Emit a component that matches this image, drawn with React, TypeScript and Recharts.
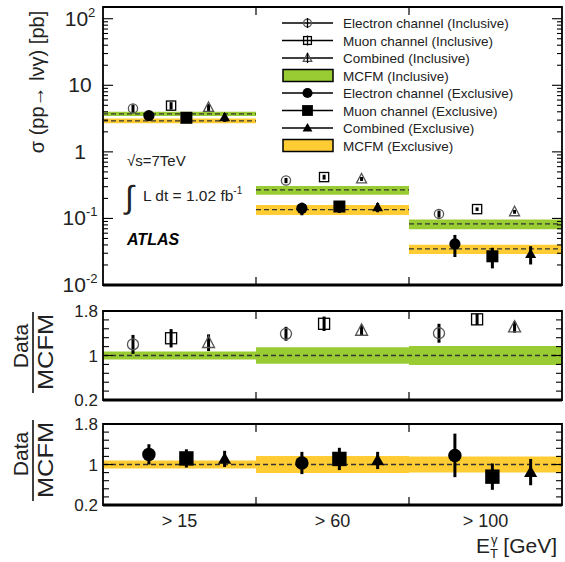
import React from 'react';
import { ComposedChart, Scatter, ErrorBar, XAxis, YAxis, ReferenceArea, ReferenceLine } from 'recharts';

const FONT = '"Liberation Sans", Arial, Helvetica, sans-serif';

// E_T^gamma bins
const binLabels = ['> 15', '> 60', '> 100'];
const binEdges = [1, 2];
const binCenters = [0.5, 1.5, 2.5];

// MCFM predictions [pb] and relative uncertainty
const mcfmIncl = [3.73, 0.268, 0.0826];
const mcfmExcl = [2.93, 0.1355, 0.0348];
const mcfmInclUnc = [0.07, 0.15, 0.17];
const mcfmExclUnc = [0.08, 0.17, 0.16];

// measured cross sections [pb]
const elIncl = [4.5, 0.372, 0.117];
const muIncl = [4.95, 0.418, 0.138];
const combIncl = [4.65, 0.392, 0.126];
const elExcl = [3.5, 0.142, 0.0414];
const muExcl = [3.25, 0.151, 0.027];
const combExcl = [3.3, 0.147, 0.0293];

// Data / MCFM
const elInclRatio = [1.2, 1.39, 1.4];
const muInclRatio = [1.31, 1.57, 1.65];
const combInclRatio = [1.23, 1.45, 1.51];
const elExclRatio = [1.2, 1.03, 1.18];
const muExclRatio = [1.12, 1.11, 0.76];
const combExclRatio = [1.11, 1.08, 0.85];

// Data / MCFM total errors
const elInclErr = [0.17, 0.125, 0.17];
const muInclErr = [0.165, 0.13, 0.1];
const combInclErr = [0.15, 0.1, 0.1];
const elExclErr = [0.2, 0.22, 0.43];
const muExclErr = [0.18, 0.22, 0.26];
const combExclErr = [0.16, 0.17, 0.26];

// axis ticks
const logMajor = [0.01, 0.1, 1, 10, 100];
const logLabels = [['10', '-2'], ['10', '-1'], ['1', ''], ['10', ''], ['10', '2']];
const ratioTicks = [0.2, 0.36, 0.52, 0.68, 0.84, 1, 1.16, 1.32, 1.48, 1.64, 1.8];
const ratioMajor = [0.2, 1, 1.8];
const ratioLabels = ['0.2', '1', '1.8'];

const LOG_MAX = 150;
const logTicks = logMajor
  .flatMap((d) => [1, 2, 3, 4, 5, 6, 7, 8, 9].map((k) => d * k))
  .filter((v) => v <= LOG_MAX);

const PL = 103;
const PR = 562;
const GREEN = '#99cc33';
const YELLOW = '#ffcc33';

type Kind = 'oc' | 'os' | 'ot' | 'fc' | 'fs' | 'ft';

interface Series {
  name: string;
  kind: Kind;
  off: number;
  xs: number[];
  ratio: number[];
  err: number[];
}

const inclSeries: Series[] = [
  { name: 'Electron channel (Inclusive)', kind: 'oc', off: 0.196, xs: elIncl, ratio: elInclRatio, err: elInclErr },
  { name: 'Muon channel (Inclusive)', kind: 'os', off: 0.445, xs: muIncl, ratio: muInclRatio, err: muInclErr },
  { name: 'Combined (Inclusive)', kind: 'ot', off: 0.69, xs: combIncl, ratio: combInclRatio, err: combInclErr },
];
const exclSeries: Series[] = [
  { name: 'Electron channel (Exclusive)', kind: 'fc', off: 0.3, xs: elExcl, ratio: elExclRatio, err: elExclErr },
  { name: 'Muon channel (Exclusive)', kind: 'fs', off: 0.545, xs: muExcl, ratio: muExclRatio, err: muExclErr },
  { name: 'Combined (Exclusive)', kind: 'ft', off: 0.795, xs: combExcl, ratio: combExclRatio, err: combExclErr },
];

const drawMarker = (kind: Kind, cx: number, cy: number, s: number) => {
  switch (kind) {
    case 'oc':
      return <circle cx={cx} cy={cy} r={4.6 * s} fill="none" stroke="#555" strokeWidth={1.3} />;
    case 'os':
      return <rect x={cx - 4.6 * s} y={cy - 4.6 * s} width={9.2 * s} height={9.2 * s} fill="none" stroke="#000" strokeWidth={1.3} />;
    case 'ot':
      return <path d={`M${cx},${cy - 5.5 * s}L${cx + 5 * s},${cy + 4 * s}L${cx - 5 * s},${cy + 4 * s}Z`} fill="none" stroke="#555" strokeWidth={1.3} />;
    case 'fc':
      return <circle cx={cx} cy={cy} r={5.6 * s} fill="#000" />;
    case 'fs':
      return <rect x={cx - 6 * s} y={cy - 6 * s} width={12 * s} height={12 * s} fill="#000" />;
    default:
      return <path d={`M${cx},${cy - 5.5 * s}L${cx + 5.5 * s},${cy + 4 * s}L${cx - 5.5 * s},${cy + 4 * s}Z`} fill="#000" />;
  }
};

const binTick = (top: number, bottom: number, labels: boolean) => (props: any) => {
  const { x, payload } = props;
  const v = payload.value;
  if (labels && binCenters.includes(v)) {
    return (
      <text x={x} y={bottom + 22} textAnchor="middle" fontSize={18} fontFamily={FONT} fill="#222">
        {binLabels[binCenters.indexOf(v)]}
      </text>
    );
  }
  return (
    <g>
      <line x1={x} x2={x} y1={bottom} y2={bottom - 8} stroke="#000" strokeWidth={1.2} />
      <line x1={x} x2={x} y1={top} y2={top + 8} stroke="#000" strokeWidth={1.2} />
    </g>
  );
};

const logTick = (props: any) => {
  const { y, payload } = props;
  const v = payload.value;
  const idx = logMajor.findIndex((m) => Math.abs(m - v) < m * 1e-6);
  const len = idx >= 0 ? 10 : 5;
  return (
    <g>
      <line x1={PL} x2={PL + len} y1={y} y2={y} stroke="#000" strokeWidth={1.1} />
      <line x1={PR - len} x2={PR} y1={y} y2={y} stroke="#000" strokeWidth={1.1} />
      {idx >= 0 && (
        <text x={80} y={y + 7} textAnchor="middle" fontSize={21} fontFamily={FONT} fill="#222">
          {logLabels[idx][0]}
          {logLabels[idx][1] && (
            <tspan dy={-9} fontSize={13}>
              {logLabels[idx][1]}
            </tspan>
          )}
        </text>
      )}
    </g>
  );
};

const ratioTick = (props: any) => {
  const { y, payload } = props;
  const v = payload.value;
  const idx = ratioMajor.findIndex((m) => Math.abs(m - v) < 1e-6);
  const len = idx >= 0 ? 10 : 6;
  return (
    <g>
      <line x1={PL} x2={PL + len} y1={y} y2={y} stroke="#000" strokeWidth={1.1} />
      <line x1={PR - len} x2={PR} y1={y} y2={y} stroke="#000" strokeWidth={1.1} />
      {idx >= 0 && (
        <text x={98} y={y + 6} textAnchor="end" fontSize={17} fontFamily={FONT} fill="#222">
          {ratioLabels[idx]}
        </text>
      )}
    </g>
  );
};

const scatterFor = (s: Series, vals: number[], errs: number[], scale: number) => (
  <Scatter
    key={s.name}
    name={s.name}
    data={vals.map((v, i) => ({ x: i + s.off, y: v, err: errs[i] }))}
    shape={(p: any) => drawMarker(s.kind, p.cx, p.cy, scale)}
    isAnimationActive={false}
  >
    <ErrorBar dataKey="err" direction="y" width={0} stroke="#000" strokeWidth={3} />
  </Scatter>
);

const dash = '5 3';

const RatioPanel = ({ series, unc, color, top, plotBottom, height, labels }: any) => {
  return (
    <ComposedChart width={565} height={height} margin={{ top, right: 3, bottom: 0, left: 0 }}>
      <XAxis type="number" dataKey="x" domain={[0, 3]} ticks={labels ? [...binCenters, ...binEdges] : binEdges} interval={0} height={height - plotBottom} axisLine={false} tickLine={false} tick={binTick(top, plotBottom, labels)} allowDataOverflow />
      <YAxis type="number" dataKey="y" domain={[0.2, 1.8]} ticks={ratioTicks} interval={0} width={103} axisLine={false} tickLine={false} tick={ratioTick} allowDataOverflow />
      {unc.map((u: number, i: number) => (
        <ReferenceArea key={'b' + i} x1={i} x2={i + 1} y1={1 - u} y2={1 + u} fill={color} fillOpacity={1} stroke="none" />
      ))}
      <ReferenceLine y={1} stroke="#333" strokeWidth={1.3} strokeDasharray={dash} />
      <ReferenceArea x1={0} x2={3} y1={0.2} y2={1.8} fill="none" stroke="#000" strokeWidth={1.8} />
      <ReferenceLine y={0.2} stroke="#000" strokeWidth={3} />
      {series.map((s: Series) => scatterFor(s, s.ratio, s.err, 1.2))}
    </ComposedChart>
  );
};

const legendRows: { kind: Kind | 'g' | 'y'; label: string }[] = [
  { kind: 'oc', label: 'Electron channel (Inclusive)' },
  { kind: 'os', label: 'Muon channel (Inclusive)' },
  { kind: 'ot', label: 'Combined (Inclusive)' },
  { kind: 'g', label: 'MCFM (Inclusive)' },
  { kind: 'fc', label: 'Electron channel (Exclusive)' },
  { kind: 'fs', label: 'Muon channel (Exclusive)' },
  { kind: 'ft', label: 'Combined (Exclusive)' },
  { kind: 'y', label: 'MCFM (Exclusive)' },
];

const Legend = () => (
  <g>
    {legendRows.map((r, i) => {
      const y = 23 + i * 17.5;
      const open = r.kind === 'oc' || r.kind === 'os' || r.kind === 'ot';
      return (
        <g key={r.label}>
          {r.kind === 'g' || r.kind === 'y' ? (
            <rect x={283} y={y - 6} width={50} height={12} fill={r.kind === 'g' ? GREEN : YELLOW} stroke="#000" strokeWidth={1.5} />
          ) : (
            <g>
              <line x1={282} x2={333} y1={y} y2={y} stroke="#000" strokeWidth={1.5} />
              {drawMarker(r.kind, 307.5, y, open ? 0.85 : 0.9)}
              {open && <line x1={307.5} x2={307.5} y1={y - 5} y2={y + 5} stroke="#000" strokeWidth={1.3} />}
            </g>
          )}
          <text x={343} y={y + 5} fontSize={13.5} fontFamily={FONT} fill="#222">
            {r.label}
          </text>
        </g>
      );
    })}
  </g>
);

const DataOverMc = ({ cy }: { cy: number }) => (
  <g fontFamily={FONT} fill="#222">
    <text transform={`translate(28,${cy - 6}) rotate(-90)`} textAnchor="middle" fontSize={21}>
      Data
    </text>
    <line x1={33} x2={33} y1={cy - 40} y2={cy + 41} stroke="#000" strokeWidth={1.5} />
    <text transform={`translate(53,${cy}) rotate(-90)`} textAnchor="middle" fontSize={22} textLength={76} lengthAdjust="spacingAndGlyphs">
      MCFM
    </text>
  </g>
);

export default function App() {
  const allSeries = [...inclSeries, ...exclSeries];
  return (
    <div style={{ position: 'absolute', left: 0, top: 0, width: 565, height: 562, background: '#fff', fontFamily: FONT }}>
      <div style={{ position: 'absolute', left: 0, top: 0 }}>
        <ComposedChart width={565} height={300} margin={{ top: 7, right: 3, bottom: 0, left: 0 }}>
          <XAxis type="number" dataKey="x" domain={[0, 3]} ticks={binEdges} interval={0} height={15} axisLine={false} tickLine={false} tick={binTick(7, 285, false)} allowDataOverflow />
          <YAxis type="number" dataKey="y" scale="log" domain={[0.01, LOG_MAX]} ticks={logTicks} interval={0} width={103} axisLine={false} tickLine={false} tick={logTick} allowDataOverflow />
          {mcfmIncl.map((v, i) => (
            <ReferenceArea key={'gi' + i} x1={i} x2={i + 1} y1={v * (1 - mcfmInclUnc[i])} y2={v * (1 + mcfmInclUnc[i])} fill={GREEN} fillOpacity={1} stroke="none" />
          ))}
          {mcfmExcl.map((v, i) => (
            <ReferenceArea key={'ye' + i} x1={i} x2={i + 1} y1={v * (1 - mcfmExclUnc[i])} y2={v * (1 + mcfmExclUnc[i])} fill={YELLOW} fillOpacity={1} stroke="none" />
          ))}
          {[...mcfmIncl, ...mcfmExcl].map((v, j) => (
            <ReferenceLine key={'d' + j} segment={[{ x: j % 3, y: v }, { x: (j % 3) + 1, y: v }]} stroke="#333" strokeWidth={1.3} strokeDasharray={dash} />
          ))}
          <ReferenceArea x1={0} x2={3} y1={0.01} y2={LOG_MAX} fill="none" stroke="#000" strokeWidth={1.8} />
          <ReferenceLine y={0.01} stroke="#000" strokeWidth={3} />
          {allSeries.map((s) =>
            scatterFor(
              s,
              s.xs,
              s.xs.map((v, i) => (v * s.err[i]) / s.ratio[i]),
              1
            )
          )}
        </ComposedChart>
      </div>
      <div style={{ position: 'absolute', left: 0, top: 300 }}>
        <RatioPanel series={inclSeries} unc={mcfmInclUnc} color={GREEN} top={11} plotBottom={100} height={112} labels={false} />
      </div>
      <div style={{ position: 'absolute', left: 0, top: 410 }}>
        <RatioPanel series={exclSeries} unc={mcfmExclUnc} color={YELLOW} top={14} plotBottom={95} height={152} labels={true} />
      </div>
      <svg width={565} height={562} style={{ position: 'absolute', left: 0, top: 0, pointerEvents: 'none' }}>
        <text transform="translate(44,82) rotate(-90)" textAnchor="middle" fontSize={20} fontFamily={FONT} fill="#222">
          σ (pp→ lνγ) [pb]
        </text>
        <Legend />
        <g fontFamily={FONT} fill="#222">
          <text x={127} y={166} fontSize={15}>
            √s=7TeV
          </text>
          <text x={125} y={208} fontSize={32}>
            ∫
          </text>
          <text x={143} y={201} fontSize={15.5}>
            L dt = 1.02 fb
            <tspan dy={-7} fontSize={10}>
              -1
            </tspan>
          </text>
          <text x={127} y={245} fontSize={16} fontWeight="bold" fontStyle="italic" fill="#000">
            ATLAS
          </text>
        </g>
        <DataOverMc cy={352} />
        <DataOverMc cy={460} />
        <text x={476} y={553} fontSize={21} fontFamily={FONT} fill="#222">
          E
          <tspan dy={5} fontSize={13}>
            T
          </tspan>
          <tspan dx={-7} dy={-14} fontSize={13}>
            γ
          </tspan>
          <tspan dy={9}> [GeV]</tspan>
        </text>
      </svg>
    </div>
  );
}
